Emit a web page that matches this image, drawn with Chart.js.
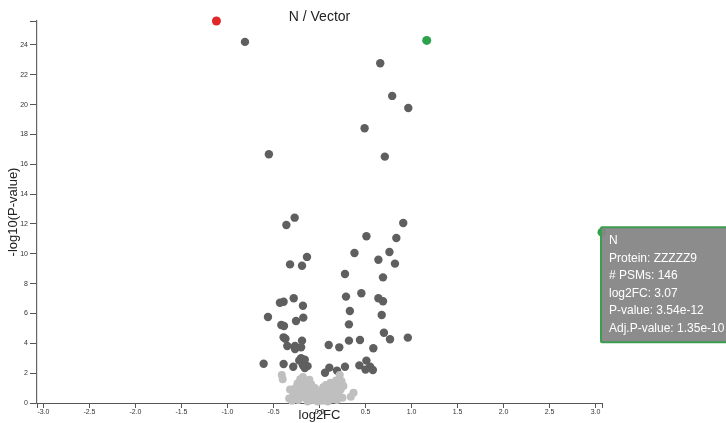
<!DOCTYPE html>
<html>
<head>
<meta charset="utf-8">
<title>N / Vector</title>
<script src="https://cdn.jsdelivr.net/npm/chart.js@4.4.1/dist/chart.umd.min.js"></script>
<style>
  html, body { margin: 0; padding: 0; overflow: hidden; background: #fff; }
</style>
</head>
<body>
<canvas id="volcano" width="760" height="423"></canvas>
<script>
// values: [log2FC, -log10(P-value)]
const lightPoints = [
  [-0.41, 1.88], [-0.40, 1.6], [-0.33, 0.3], [-0.32, 0.9],
  [-0.30, 0.15], [-0.29, 0.45], [-0.28, 0.75], [-0.27, 0.3], [-0.26, 1.0],
  [-0.25, 0.6], [-0.24, 1.3], [-0.23, 0.2], [-0.22, 0.9], [-0.21, 1.6],
  [-0.20, 0.5], [-0.19, 1.2], [-0.18, 1.75], [-0.17, 0.8], [-0.16, 0.35],
  [-0.15, 1.45], [-0.14, 1.05], [-0.13, 0.1], [-0.12, 0.65], [-0.11, 1.55],
  [-0.10, 0.4], [-0.09, 1.25], [-0.08, 0.85], [-0.07, 0.2], [-0.06, 0.55],
  [-0.05, 1.0], [-0.04, 0.3], [-0.03, 0.7], [-0.02, 0.1], [-0.01, 0.45],
  [0.0, 0.25], [0.01, 0.8], [0.02, 0.5], [0.03, 0.15], [0.04, 1.05],
  [0.05, 0.6], [0.06, 0.3], [0.07, 1.2], [0.08, 0.75], [0.09, 0.1],
  [0.10, 0.45], [0.11, 0.95], [0.12, 1.35], [0.13, 0.25], [0.14, 0.65],
  [0.15, 1.1], [0.16, 0.4], [0.17, 0.85], [0.18, 1.5], [0.19, 0.2],
  [0.20, 1.25], [0.21, 0.55], [0.22, 1.88], [0.23, 0.9], [0.24, 1.45],
  [0.25, 0.35], [0.26, 1.14], [0.34, 0.42], [0.37, 0.69]
];

const darkPoints = [
  [-0.81, 24.2], [0.66, 22.77], [0.79, 20.58], [0.965, 19.77], [0.49, 18.41],
  [-0.55, 16.67], [0.71, 16.51], [-0.27, 12.42], [-0.36, 11.93], [0.91, 12.06],
  [0.51, 11.17], [0.835, 11.06], [0.38, 10.05], [0.76, 10.12], [-0.136, 9.79],
  [-0.32, 9.29], [-0.19, 9.2], [0.64, 9.6], [0.82, 9.34], [0.277, 8.65],
  [0.69, 8.42], [-0.43, 6.72], [-0.39, 6.79], [-0.28, 7.02], [-0.18, 6.52],
  [0.288, 7.13], [0.455, 7.35], [0.64, 7.02], [0.69, 6.82], [-0.56, 5.76],
  [-0.255, 5.5], [-0.176, 5.72], [0.33, 6.17], [0.676, 5.9], [-0.415, 5.23],
  [-0.386, 5.16], [0.32, 5.27], [0.70, 4.71], [-0.39, 4.40], [-0.37, 4.31],
  [-0.19, 4.18], [0.32, 4.18], [0.44, 4.22], [0.766, 4.27], [0.96, 4.38],
  [-0.35, 3.82], [-0.266, 3.82], [-0.2, 3.73], [0.10, 3.89], [0.215, 3.73],
  [0.585, 3.67], [-0.266, 3.62], [-0.607, 2.63], [-0.39, 2.61], [-0.285, 2.43],
  [-0.22, 2.85], [-0.2, 3.0], [-0.16, 2.9], [-0.13, 2.47], [-0.16, 2.35],
  [-0.18, 2.53], [0.06, 2.03], [0.107, 2.37], [0.19, 2.17], [0.277, 2.43],
  [0.433, 2.52], [0.51, 2.84], [0.55, 2.43], [0.58, 2.21], [0.50, 2.24]
];

const redPoints = [[-1.12, 25.6]];
const greenPoints = [[1.165, 24.3], [3.07, 11.45]];

const xTicks = [-3.0, -2.5, -2.0, -1.5, -1.0, -0.5, 0.0, 0.5, 1.0, 1.5, 2.0, 2.5, 3.0];
const yTicks = [0, 2, 4, 6, 8, 10, 12, 14, 16, 18, 20, 22, 24];
const xMin = -3.07, xMax = 3.07;
const yMax = 25.6;

const chartTitle = "N / Vector";

// the protein shown in the tooltip
const tipGroup = "N";
const tipProtein = "ZZZZZ9";
const tipPsms = 146;
const tipLog2FC = 3.07;
const tipPValue = 3.54e-12;
const tipAdjPValue = 1.35e-10;

const FONT = "'Liberation Sans', Arial, Helvetica, sans-serif";

const toXY = (arr) => arr.map(([x, y]) => ({ x, y }));

// put the tooltip box with its top-left corner on the point
Chart.Tooltip.positioners.atPoint = function (items) {
  if (!items.length) return false;
  const el = items[0].element;
  return { x: el.x, y: el.y - 5 };
};

// title drawn by hand so it can sit right over the top of the axis
const titlePlugin = {
  id: "plotTitle",
  afterDraw(chart) {
    const { ctx, chartArea } = chart;
    ctx.save();
    ctx.font = "14px " + FONT;
    ctx.fillStyle = "#222";
    ctx.textAlign = "center";
    ctx.textBaseline = "middle";
    ctx.fillText(chartTitle, (chartArea.left + chartArea.right) / 2, 17);
    ctx.restore();
  },
};

const chart = new Chart(document.getElementById("volcano"), {
  type: "scatter",
  data: {
    datasets: [
      { label: "not significant", data: toXY(lightPoints), backgroundColor: "#bfbfbf", pointRadius: 4 },
      { label: "significant", data: toXY(darkPoints), backgroundColor: "#5f5f5f", pointRadius: 4.2 },
      { label: "down", data: toXY(redPoints), backgroundColor: "#e2272b", pointRadius: 4.5 },
      { label: "up", data: toXY(greenPoints), backgroundColor: "#2ca24c", pointRadius: 4.5 },
    ],
  },
  options: {
    responsive: false,
    animation: false,
    events: [],
    layout: { padding: { left: 0, top: 21, right: 158, bottom: 0 } },
    datasets: { scatter: { clip: false, borderWidth: 0 } },
    plugins: {
      legend: { display: false },
      tooltip: {
        position: "atPoint",
        xAlign: "left",
        yAlign: "top",
        caretSize: 0,
        caretPadding: 0,
        cornerRadius: 1,
        backgroundColor: "rgba(134, 134, 134, 0.95)",
        borderColor: "#3c9d50",
        borderWidth: 2,
        displayColors: false,
        bodyColor: "#fff",
        bodySpacing: 0,
        bodyFont: { family: FONT, size: 12, lineHeight: 1.46 },
        padding: { top: 5, bottom: 5, left: 8, right: 8 },
        callbacks: {
          title: () => "",
          label: () => [
            tipGroup,
            "Protein: " + tipProtein,
            "# PSMs: " + tipPsms,
            "log2FC: " + tipLog2FC.toFixed(2),
            "P-value: " + tipPValue.toExponential(2),
            "Adj.P-value: " + tipAdjPValue.toExponential(2),
          ],
        },
      },
    },
    scales: {
      x: {
        type: "linear",
        min: xMin,
        max: xMax,
        afterBuildTicks: (s) => { s.ticks = [xMin, ...xTicks, xMax].map((v) => ({ value: v })); },
        afterFit: (s) => { s.height = 20; },
        ticks: {
          autoSkip: false,
          maxRotation: 0,
          padding: 0,
          color: "#333",
          font: { family: FONT, size: 7 },
          callback: (v) => (xTicks.includes(v) ? v.toFixed(1) : ""),
        },
        grid: { drawOnChartArea: false, tickLength: 5, color: "#555" },
        border: { color: "#555", width: 1 },
        title: { display: true, text: "log2FC", color: "#222", font: { family: FONT, size: 13 }, padding: 0 },
      },
      y: {
        type: "linear",
        min: 0,
        max: yMax,
        afterBuildTicks: (s) => { s.ticks = [...yTicks, yMax].map((v) => ({ value: v })); },
        afterFit: (s) => { s.width = 37; },
        ticks: {
          autoSkip: false,
          padding: 2,
          color: "#333",
          font: { family: FONT, size: 7 },
          callback: (v) => (yTicks.includes(v) ? String(v) : ""),
        },
        grid: { drawOnChartArea: false, tickLength: 7, color: "#555" },
        border: { color: "#666", width: 1.2 },
        title: {
          display: true,
          text: "-log10(P-value)",
          color: "#222",
          font: { family: FONT, size: 13 },
          padding: { top: 6, bottom: 0 },
        },
      },
    },
  },
  plugins: [titlePlugin],
});

// show the tooltip for the far right point, as in the screenshot
chart.tooltip.setActiveElements([{ datasetIndex: 3, index: 1 }], { x: 0, y: 0 });
chart.update();
</script>
</body>
</html>
